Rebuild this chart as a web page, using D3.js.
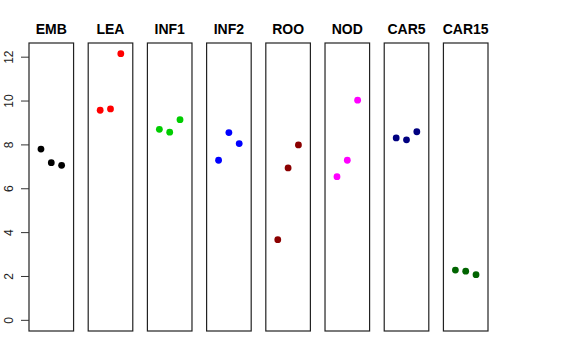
<!DOCTYPE html>
<html><head><meta charset="utf-8">
<script src="https://cdn.jsdelivr.net/npm/d3@7"></script>
<style>body{margin:0;background:#fff}svg{display:block}</style>
</head><body>
<svg id="c" width="576" height="360"></svg>
<script>
const categories = ["EMB","LEA","INF1","INF2","ROO","NOD","CAR5","CAR15"];
const colors = ["#000000","#FF0000","#00CD00","#0000FF","#8B0000","#FF00FF","#000080","#006400"];
const vEMB = [7.81, 7.19, 7.07];
const vLEA = [9.58, 9.64, 12.16];
const vINF1 = [8.71, 8.58, 9.15];
const vINF2 = [7.30, 8.56, 8.06];
const vROO = [3.68, 6.95, 8.00];
const vNOD = [6.55, 7.30, 10.04];
const vCAR5 = [8.32, 8.23, 8.60];
const vCAR15 = [2.29, 2.24, 2.08];
const yTicks = [0, 2, 4, 6, 8, 10, 12];
const series = [vEMB, vLEA, vINF1, vINF2, vROO, vNOD, vCAR5, vCAR15];

const svg = d3.select("#c");
const pTop = 43, pBottom = 331;
const ymax = d3.max(series.flat());
const ext = ymax * 0.04;
const y = d3.scaleLinear().domain([0 - ext, ymax + ext]).range([pBottom, pTop]);
const band = d3.scaleBand().domain(categories).range([29, 488]).paddingInner(0.247).paddingOuter(0);

categories.forEach((c, i) => {
  const x0 = band(c), w = band.bandwidth();
  const x = d3.scaleLinear().domain([-0.16, 4.16]).range([x0, x0 + w]);
  const g = svg.append("g");
  g.append("rect").attr("x", x0).attr("y", pTop).attr("width", w).attr("height", pBottom - pTop)
    .attr("fill", "none").attr("stroke", "#222").attr("stroke-width", 1.2);
  g.append("text").attr("x", x0 + w / 2).attr("y", 34).attr("text-anchor", "middle")
    .attr("font-family", "Liberation Sans, Arial, sans-serif").attr("font-weight", "bold")
    .attr("font-size", 14).text(c);
  g.selectAll("circle").data(series[i]).join("circle")
    .attr("cx", (d, j) => x(j + 1)).attr("cy", d => y(d)).attr("r", 3.4)
    .attr("fill", colors[i]);
});

// y axis
const ax = svg.append("g");
const xl = band(categories[0]);
ax.selectAll("line.t").data(yTicks).join("line").attr("class", "t")
  .attr("x1", xl - 8).attr("x2", xl).attr("y1", d => y(d)).attr("y2", d => y(d))
  .attr("stroke", "#333").attr("stroke-width", 1);
ax.selectAll("text").data(yTicks).join("text")
  .attr("transform", d => `translate(13,${y(d)}) rotate(-90)`)
  .attr("text-anchor", "middle").attr("font-family", "Liberation Sans, Arial, sans-serif")
  .attr("font-size", 12).attr("fill", "#222").text(d => d);
</script>
</body></html>
